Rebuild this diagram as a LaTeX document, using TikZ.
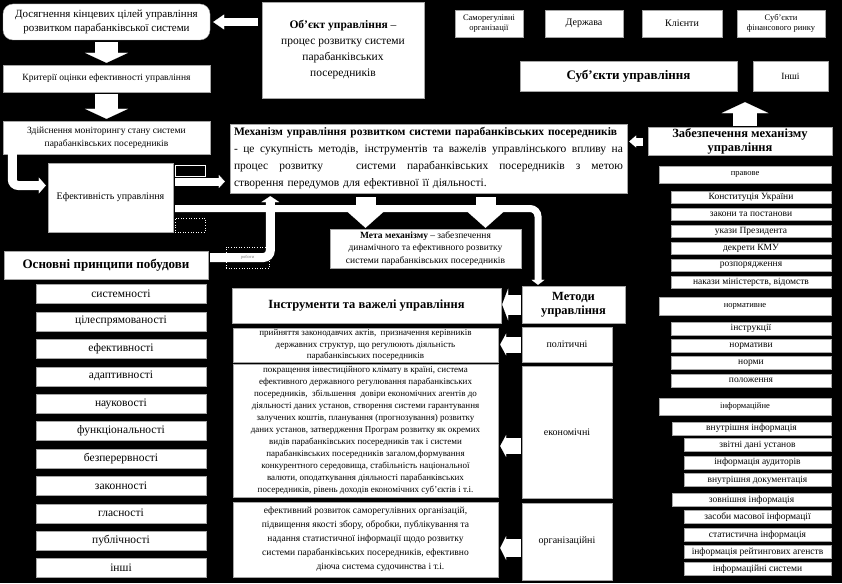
\documentclass[tikz,border=0pt]{standalone}
\usepackage{fontspec}
\setmainfont{Liberation Serif}
\usetikzlibrary{arrows.meta, positioning}
\newcommand{\fsz}[2]{\fontsize{#1}{#2}\selectfont}
\newcommand{\spreadline}[1]{\makebox[389pt][s]{\spaceskip=0pt\xspaceskip=0pt\relax #1}}

\begin{document}
\begin{tikzpicture}[
      x=1pt, y=-1pt,
      box/.style={draw=gray!70, line width=0.4pt, fill=white, inner sep=1pt, align=center, text=black},
      principle/.style={box, minimum width=170pt, minimum height=19pt, font=\fsz{11.5}{12}},
      lawitem/.style={box, minimum width=160pt, minimum height=12.5pt, font=\fsz{9.5}{10}},
      infoitem/.style={box, minimum width=159pt, minimum height=13pt, font=\fsz{9.5}{10}},
      infosub/.style={box, minimum width=147pt, minimum height=13pt, font=\fsz{9.5}{10}},
      kind/.style={box, minimum width=172pt, font=\fsz{8.5}{9}},
      method/.style={box, minimum width=90pt, font=\fsz{10}{12}},
      blockarrow/.style n args={3}{draw=white, line width=#1, -{Triangle[width=#2, length=#3, line width=0.1pt]}}
    ]
      \fill[black] (0,0) rectangle (842,583);
      \useasboundingbox (0,0) rectangle (842,583);

      % left column
      \node[box, rounded corners=10pt, minimum width=207pt, minimum height=36pt, font=\fsz{11}{14}] (goal) at (106.5,22) {Досягнення кінцевих цілей управління\\розвитком парабанківської системи};
      \node[box, minimum width=162pt, minimum height=96pt, font=\fsz{11.5}{16}] (object) at (343,50) {\textbf{Об’єкт управління} –\\процес розвитку системи\\парабанківських\\посередників};
      \node[box, minimum width=207pt, minimum height=27pt, font=\fsz{9.5}{11}] (criteria) at (106.5,78.5) {Критерії оцінки ефективності управління};
      \node[box, minimum width=207pt, minimum height=33pt, font=\fsz{9.5}{13}] (monitoring) at (106.5,137.5) {Здійснення моніторингу стану системи\\парабанківських посередників};
      \node[box, minimum width=125pt, minimum height=69pt, font=\fsz{10}{12}] (efficiency) at (110.5,197.5) {Ефективність управління};
      \node[draw=white, line width=0.6pt, minimum width=30pt, minimum height=11pt, inner sep=0pt] (gapA) at (190,170.5) {};
      \node[draw=white, dotted, line width=0.6pt, minimum width=30pt, minimum height=14pt, inner sep=0pt] (gapB) at (190,225) {};

      \node[box, minimum width=204pt, minimum height=28pt, font=\bfseries\fsz{13}{14}] (principles) at (106,265) {Основні принципи побудови};
      \node[principle] (pr1) at (121,294) {системності};
      \node[principle] (pr2) at (121,321.4) {цілеспрямованості};
      \node[principle] (pr3) at (121,348.8) {ефективності};
      \node[principle] (pr4) at (121,376.2) {адаптивності};
      \node[principle] (pr5) at (121,403.6) {науковості};
      \node[principle] (pr6) at (121,431) {функціональності};
      \node[principle] (pr7) at (121,458.4) {безперервності};
      \node[principle] (pr8) at (121,485.8) {законності};
      \node[principle] (pr9) at (121,513.2) {гласності};
      \node[principle] (pr10) at (121,540.6) {публічності};
      \node[principle] (pr11) at (121,568) {інші};

      % middle column
      \node[box, minimum width=397pt, minimum height=69pt, text width=389pt, align=left, font=\fsz{11.5}{17}] (mechanism) at (428.5,158.5) {\textbf{Механізм управління розвитком системи парабанківських посередників}\\\spreadline{- це сукупність методів, інструментів та важелів управлінського впливу на}\\\spreadline{процес розвитку \ \ системи парабанківських посередників з метою}\\створення передумов для ефективної її діяльності.};
      \node[box, minimum width=191pt, minimum height=39pt, font=\fsz{9.5}{12.5}] (meta) at (425.5,248.5) {\textbf{Мета механізму} – забезпечення\\динамічного та ефективного розвитку\\системи парабанківських посередників};
      \node[box, minimum width=269pt, minimum height=35pt, font=\bfseries\fsz{12.5}{14}] (tools) at (366.5,305.5) {Інструменти та важелі управління};
      \node[box, minimum width=103pt, minimum height=37pt, font=\bfseries\fsz{12.5}{14}] (methods) at (573.5,304.5) {Методи\\управління};
      \node[method, minimum height=35pt] (political) at (567,344.5) {політичні};
      \node[method, minimum height=132pt] (economic) at (567,432) {економічні};
      \node[method, minimum height=77pt] (organisational) at (567,541.5) {організаційні};
      \node[box, minimum width=265pt, minimum height=34pt, font=\fsz{9}{11.5}] (poltext) at (365.5,345) {прийняття законодавчих актів, \ призначення керівників\\державних структур, що регулюють діяльність\\парабанківських посередників};
      \node[box, minimum width=265pt, minimum height=133pt, font=\fsz{9}{12}] (econtext) at (365.5,430.5) {покращення інвестиційного клімату в країні, система\\ефективного державного регулювання парабанківських\\посередників, \ збільшення \ довіри економічних агентів до\\діяльності даних установ, створення системи гарантування\\залучених коштів, планування (прогнозування) розвитку\\даних установ, затвердження Програм розвитку як окремих\\видів парабанківських посередників так і системи\\парабанківських посередників загалом,формування\\конкурентного середовища, стабільність національної\\валюти, оподаткування діяльності парабанківських\\посередників, рівень доходів економічних суб’єктів і т.і.};
      \node[box, minimum width=265pt, minimum height=75pt, font=\fsz{9.5}{14}] (orgtext) at (365.5,539.5) {ефективний розвиток саморегулівних організацій,\\підвищення якості збору, обробки, публікування та\\надання статистичної інформації щодо розвитку\\системи парабанківських посередників, ефективно\\\hspace*{30pt}діюча система судочинства і т.і.};

      % right column
      \node[box, minimum width=68pt, minimum height=27pt, font=\fsz{8.5}{10.5}] (selfreg) at (489,23.5) {Саморегулівні\\організації};
      \node[box, minimum width=78pt, minimum height=27pt, font=\fsz{10}{12}] (state) at (584,23.5) {Держава};
      \node[box, minimum width=80pt, minimum height=27pt, font=\fsz{10}{12}] (clients) at (682,23.5) {Клієнти};
      \node[box, minimum width=88pt, minimum height=27pt, font=\fsz{8.5}{10.5}] (market) at (781,23.5) {Суб’єкти\\фінансового ринку};
      \node[box, minimum width=217pt, minimum height=30pt, font=\bfseries\fsz{13}{14}] (subjects) at (628.5,76) {Суб’єкти управління};
      \node[box, minimum width=75pt, minimum height=30pt, font=\fsz{9.5}{12}] (others) at (790.5,76) {Інші};
      \node[box, minimum width=184pt, minimum height=27pt, font=\bfseries\fsz{12.5}{14}] (support) at (740,141.5) {Забезпечення механізму\\управління};

      \node[kind, minimum height=17pt] (legal) at (745,174.5) {правове};
      \node[lawitem] (law1) at (751,197) {Конституція України};
      \node[lawitem] (law2) at (751,214) {закони та постанови};
      \node[lawitem] (law3) at (751,231) {укази Президента};
      \node[lawitem] (law4) at (751,248) {декрети КМУ};
      \node[lawitem] (law5) at (751,265) {розпорядження};
      \node[lawitem] (law6) at (751,282) {накази міністерств, відомств};

      \node[kind, minimum height=18pt] (normative) at (745,306) {нормативне};
      \node[lawitem, minimum height=13pt] (norm1) at (751,328.5) {інструкції};
      \node[lawitem, minimum height=13pt] (norm2) at (751,346) {нормативи};
      \node[lawitem, minimum height=13pt] (norm3) at (751,363) {норми};
      \node[lawitem, minimum height=13pt] (norm4) at (751,380.5) {положення};

      \node[kind, minimum height=17pt] (informational) at (745,406.5) {інформаційне};
      \node[infoitem] (inner) at (751.5,428.5) {внутрішня інформація};
      \node[infosub] (inner1) at (757.5,445) {звітні дані установ};
      \node[infosub] (inner2) at (757.5,462.5) {інформація аудиторів};
      \node[infosub] (inner3) at (757.5,480) {внутрішня документація};
      \node[infoitem] (outer) at (751.5,500) {зовнішня інформація};
      \node[infosub] (outer1) at (757.5,517) {засоби масової інформації};
      \node[infosub] (outer2) at (757.5,535) {статистична інформація};
      \node[infosub] (outer3) at (757.5,552) {інформація рейтингових агенств};
      \node[infosub] (outer4) at (757.5,569) {інформаційні системи};

      % connectors
      \coordinate (effout) at ([yshift=16pt]efficiency.east);
      \coordinate (metaL) at ([xshift=-60pt]meta.north);
      \coordinate (metaR) at ([xshift=60pt]meta.north);
      \coordinate (supup) at ([xshift=5pt]support.north);
      \coordinate (econin) at ([yshift=-14pt]economic.west);
      \coordinate (orgin) at ([yshift=-6.5pt]organisational.west);

      \draw[blockarrow={8pt}{15pt}{11pt}, shorten <=4pt, shorten >=3pt] (object.west |- goal.east) -- (goal.east);
      \draw[blockarrow={23pt}{43pt}{10pt}, shorten <=2pt, shorten >=2pt] (goal.south) -- (criteria.north);
      \draw[blockarrow={23pt}{43pt}{10pt}, shorten <=2pt, shorten >=2pt] (criteria.south) -- (monitoring.north);
      \draw[blockarrow={9pt}{16pt}{7pt}, rounded corners=6pt, shorten >=2pt] ([xshift=9.5pt]monitoring.south west) |- ([yshift=12pt]efficiency.west);
      \draw[blockarrow={8pt}{13pt}{6pt}, shorten <=2pt, shorten >=5pt] (effout) -- (effout -| mechanism.west);
      \draw[blockarrow={7pt}{13pt}{5pt}, rounded corners=8pt, shorten <=2pt, shorten >=1pt] ([yshift=-11pt]efficiency.east) -| ([xshift=-35.5pt]methods.north);
      \draw[blockarrow={9pt}{18pt}{6pt}, rounded corners=7pt, shorten <=2pt, shorten >=3pt] ([yshift=7.5pt]principles.east) -| ([xshift=40.5pt]mechanism.south west);
      \draw[blockarrow={20pt}{36pt}{16pt}, shorten <=4pt, shorten >=1pt] (metaL |- mechanism.south) -- (metaL);
      \draw[blockarrow={20pt}{36pt}{16pt}, shorten <=4pt, shorten >=1pt] (metaR |- mechanism.south) -- (metaR);
      \draw[blockarrow={8pt}{12pt}{7pt}, shorten <=5pt, shorten >=2pt] (support.west) -- (support.west -| mechanism.east);
      \draw[blockarrow={24pt}{47pt}{11pt}, shorten <=1pt, shorten >=11pt] (supup) -- (supup |- subjects.south);
      \draw[blockarrow={20pt}{32pt}{6pt}, shorten <=1pt, shorten >=1pt] (methods.west) -- (methods.west -| tools.east);
      \draw[blockarrow={16pt}{22pt}{6pt}, shorten <=1pt, shorten >=2pt] (political.west) -- (political.west -| poltext.east);
      \draw[blockarrow={16pt}{22pt}{6pt}, shorten <=1pt, shorten >=2pt] (econin) -- (econin -| econtext.east);
      \draw[blockarrow={18pt}{24pt}{6pt}, shorten <=1pt, shorten >=2pt] (orgin) -- (orgin -| orgtext.east);

      \node[draw=white, dotted, line width=0.6pt, minimum width=43pt, minimum height=21pt, inner sep=0pt, font=\fsz{4.5}{5}, text=gray] (work) at (247.5,257.5) {роботи};
    \end{tikzpicture}
\end{document}
